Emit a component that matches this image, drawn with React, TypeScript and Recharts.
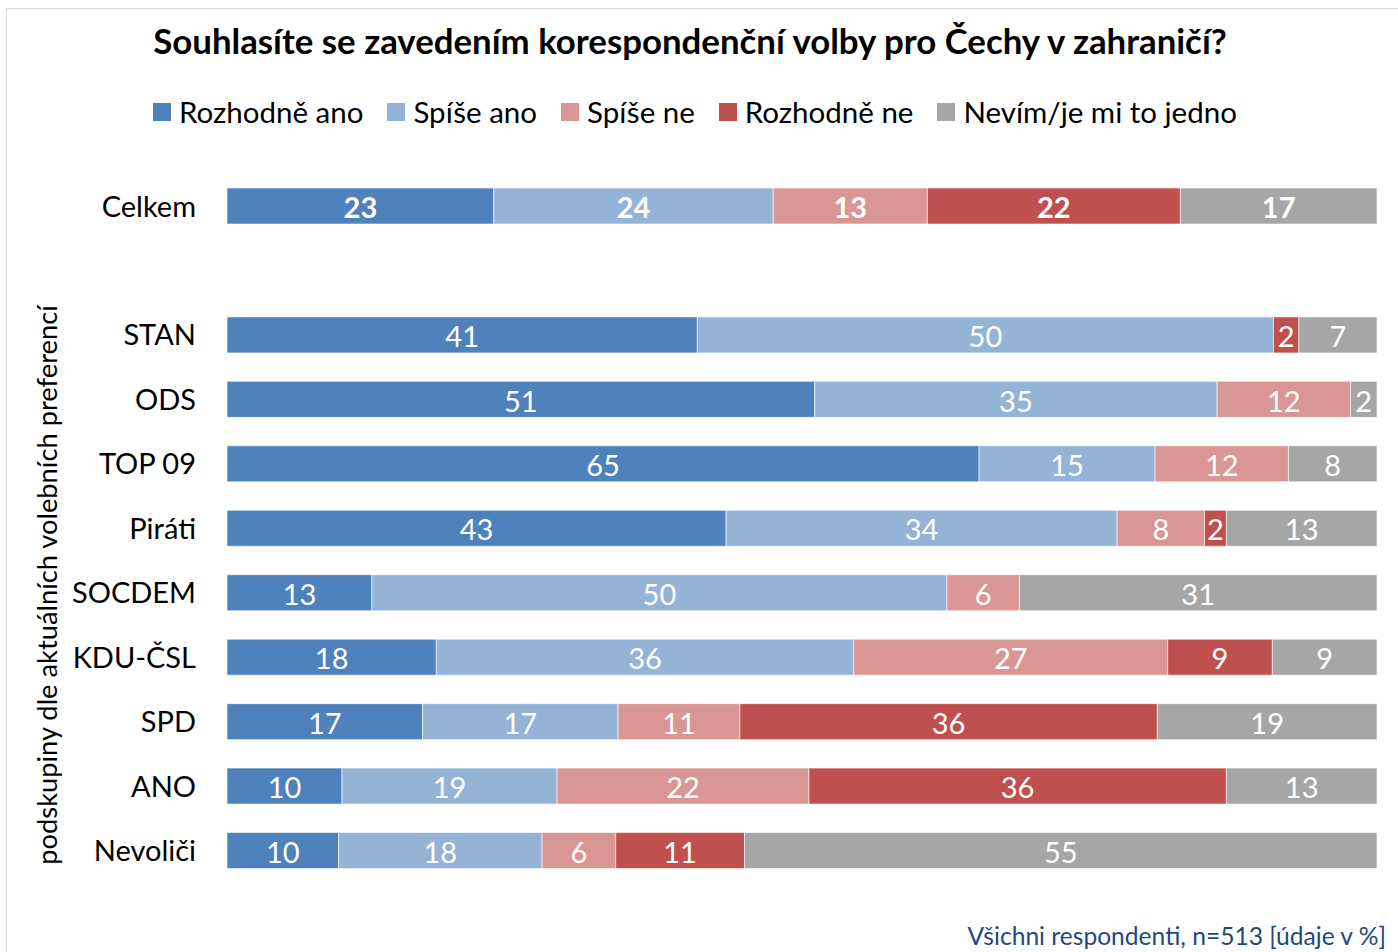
import { Bar, BarChart, LabelList, XAxis, YAxis } from 'recharts'

// podskupiny (prázdná položka = mezera pod "Celkem")
const CATEGORIES = ['Celkem', '', 'STAN', 'ODS', 'TOP 09', 'Piráti', 'SOCDEM', 'KDU-ČSL', 'SPD', 'ANO', 'Nevoliči']

const ROZHODNE_ANO = [23.2, null, 40.9, 51.1, 65.4, 43.4, 12.6, 18.2, 17.0, 10.0, 9.7]
const SPISE_ANO = [24.3, null, 50.1, 35.0, 15.3, 34.0, 50.0, 36.3, 17.0, 18.7, 17.7]
const SPISE_NE = [13.4, null, 0, 11.6, 11.6, 7.6, 6.3, 27.3, 10.6, 21.9, 6.4]
const ROZHODNE_NE = [22.0, null, 2.2, 0, 0, 1.9, 0, 9.1, 36.3, 36.3, 11.2]
const NEVIM = [17.1, null, 6.8, 2.3, 7.7, 13.1, 31.1, 9.1, 19.1, 13.1, 55.0]

const SERIES = [
  { key: 'rozhodneAno', name: 'Rozhodně ano', color: '#4F81BD', values: ROZHODNE_ANO },
  { key: 'spiseAno', name: 'Spíše ano', color: '#95B3D7', values: SPISE_ANO },
  { key: 'spiseNe', name: 'Spíše ne', color: '#D99694', values: SPISE_NE },
  { key: 'rozhodneNe', name: 'Rozhodně ne', color: '#C0504D', values: ROZHODNE_NE },
  { key: 'nevim', name: 'Nevím/je mi to jedno', color: '#A6A6A6', values: NEVIM },
]

const FONT = 'Lato, "Open Sans", sans-serif'

const chartData = CATEGORIES.map((name, i) => {
  const row: Record<string, string | number | null> = { name }
  for (const s of SERIES) row[s.key] = s.values[i]
  return row
})

function renderLabel(props: any) {
  const { x, y, width, height, value, index } = props
  if (!value) return null
  return (
    <text
      x={Number(x) + Number(width) / 2}
      y={Number(y) + Number(height) / 2 + 2}
      dy="0.35em"
      textAnchor="middle"
      fill="#ffffff"
      fontSize={29}
      fontWeight={index === 0 ? 700 : 400}
      fontFamily={FONT}
    >
      {Math.round(Number(value))}
    </text>
  )
}

export default function App() {
  return (
    <div style={{ position: 'absolute', left: 0, top: 0, width: 1398, height: 952, background: '#fff', fontFamily: FONT, overflow: 'hidden' }}>
      {/* rámeček grafu */}
      <div style={{ position: 'absolute', left: 6, top: 8, width: 1400, height: 960, border: '1px solid #D9D9D9' }} />

      <div style={{ position: 'absolute', left: 0, top: 19, width: 1380, textAlign: 'center', fontSize: 34.8, fontWeight: 700, color: '#000', lineHeight: '44px' }}>
        Souhlasíte se zavedením korespondenční volby pro Čechy v zahraničí?
      </div>

      <div style={{ position: 'absolute', left: 153, top: 94, display: 'flex', gap: 24, alignItems: 'center', fontSize: 29.5, color: '#000', lineHeight: '36px' }}>
        {SERIES.map((s) => (
          <div key={s.key} style={{ display: 'flex', alignItems: 'center', gap: 8 }}>
            <div style={{ width: 18, height: 18, background: s.color }} />
            <span>{s.name}</span>
          </div>
        ))}
      </div>

      <div
        style={{
          position: 'absolute',
          left: 46,
          top: 585,
          transform: 'translate(-50%, -50%) rotate(-90deg)',
          whiteSpace: 'nowrap',
          fontSize: 27.3,
          color: '#000',
        }}
      >
        podskupiny dle aktuálních volebních preferencí
      </div>

      <BarChart
        width={1398}
        height={952}
        data={chartData}
        layout="vertical"
        stackOffset="expand"
        margin={{ top: 174, right: 21, bottom: 69, left: 0 }}
        style={{ position: 'absolute', left: 0, top: 0 }}
      >
        <XAxis type="number" hide domain={[0, 1]} />
        <YAxis
          type="category"
          dataKey="name"
          width={227}
          axisLine={false}
          tickLine={false}
          tickSize={0}
          tickMargin={31}
          interval={0}
          tick={{ fill: '#000', fontSize: 29, fontFamily: FONT }}
        />
        {SERIES.map((s) => (
          <Bar
            key={s.key}
            dataKey={s.key}
            name={s.name}
            stackId="a"
            fill={s.color}
            stroke="#ffffff"
            strokeOpacity={0.6}
            strokeWidth={1}
            barSize={36}
            isAnimationActive={false}
          >
            <LabelList dataKey={s.key} content={renderLabel} />
          </Bar>
        ))}
      </BarChart>

      <div style={{ position: 'absolute', right: 12, top: 921, fontSize: 24.6, color: '#1F497D', lineHeight: '30px' }}>
        Všichni respondenti, n=513 [údaje v %]
      </div>
    </div>
  )
}
